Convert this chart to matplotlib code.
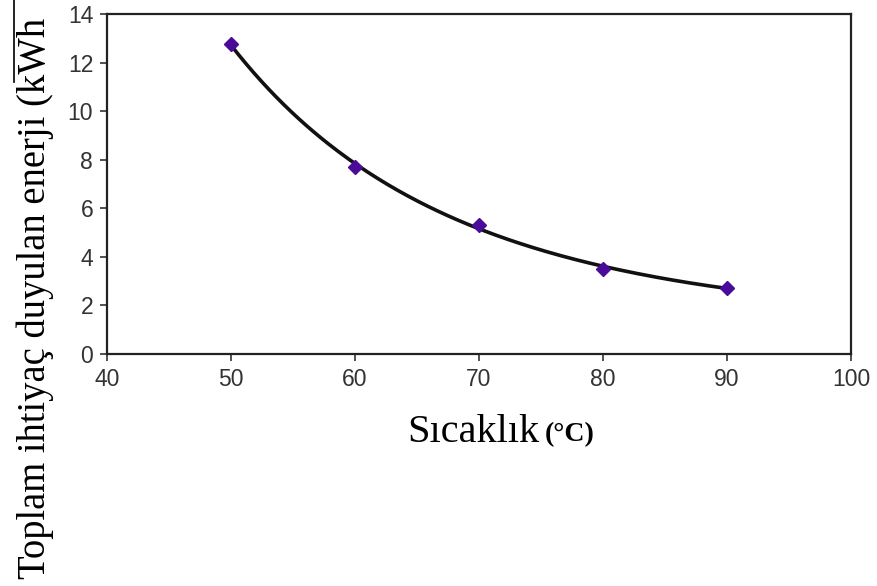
import numpy as np
import matplotlib
matplotlib.use('Agg')
from matplotlib import pyplot as plt
from matplotlib.lines import Line2D

# data
temp = [50, 60, 70, 80, 90]
energy = [12.76, 7.7, 5.33, 3.52, 2.72]
xticks = [40, 50, 60, 70, 80, 90, 100]
yticks = [0, 2, 4, 6, 8, 10, 12, 14]

fig = plt.figure(figsize=(8.78, 5.86), dpi=100)
ax = fig.add_axes([0.1219, 0.3959, 0.8474, 0.5802])

# trend line (fit to the points)
coef = np.polyfit(temp, np.log(energy), 2)
xs = np.linspace(temp[0], temp[-1], 200)
ax.plot(xs, np.exp(np.polyval(coef, xs)), color='#111111', lw=2.6, zorder=2)
ax.plot(temp, energy, linestyle='none', marker='D', markersize=7,
        color='#4a0a9a', zorder=3)

ax.set_xlim(40, 100)
ax.set_ylim(0, 14)
ax.set_xticks(xticks)
ax.set_yticks(yticks)
ax.tick_params(direction='out', length=5, width=1.2, labelsize=16.5, pad=5,
               colors='#333333')
for lab in ax.get_xticklabels() + ax.get_yticklabels():
    lab.set_fontfamily('Liberation Sans')
for s in ax.spines.values():
    s.set_linewidth(1.6)
    s.set_color('#222222')

# axis titles
fig.text(0.464, 0.262, 'Sıcaklık', family='Liberation Serif', fontsize=29,
         ha='left', va='center')
fig.text(0.620, 0.258, '(°C)', family='Liberation Serif', fontsize=20,
         fontweight='bold', ha='left', va='center')
fig.text(0.040, 0.012, 'Toplam ihtiyaç duyulan enerji (kWh',
         family='Liberation Serif', fontsize=27.8, rotation=90,
         ha='center', va='bottom')
fig.add_artist(Line2D([0.016, 0.016], [0.86, 1.0], color='black', lw=1.2))

fig.savefig('out.png', dpi=100)
